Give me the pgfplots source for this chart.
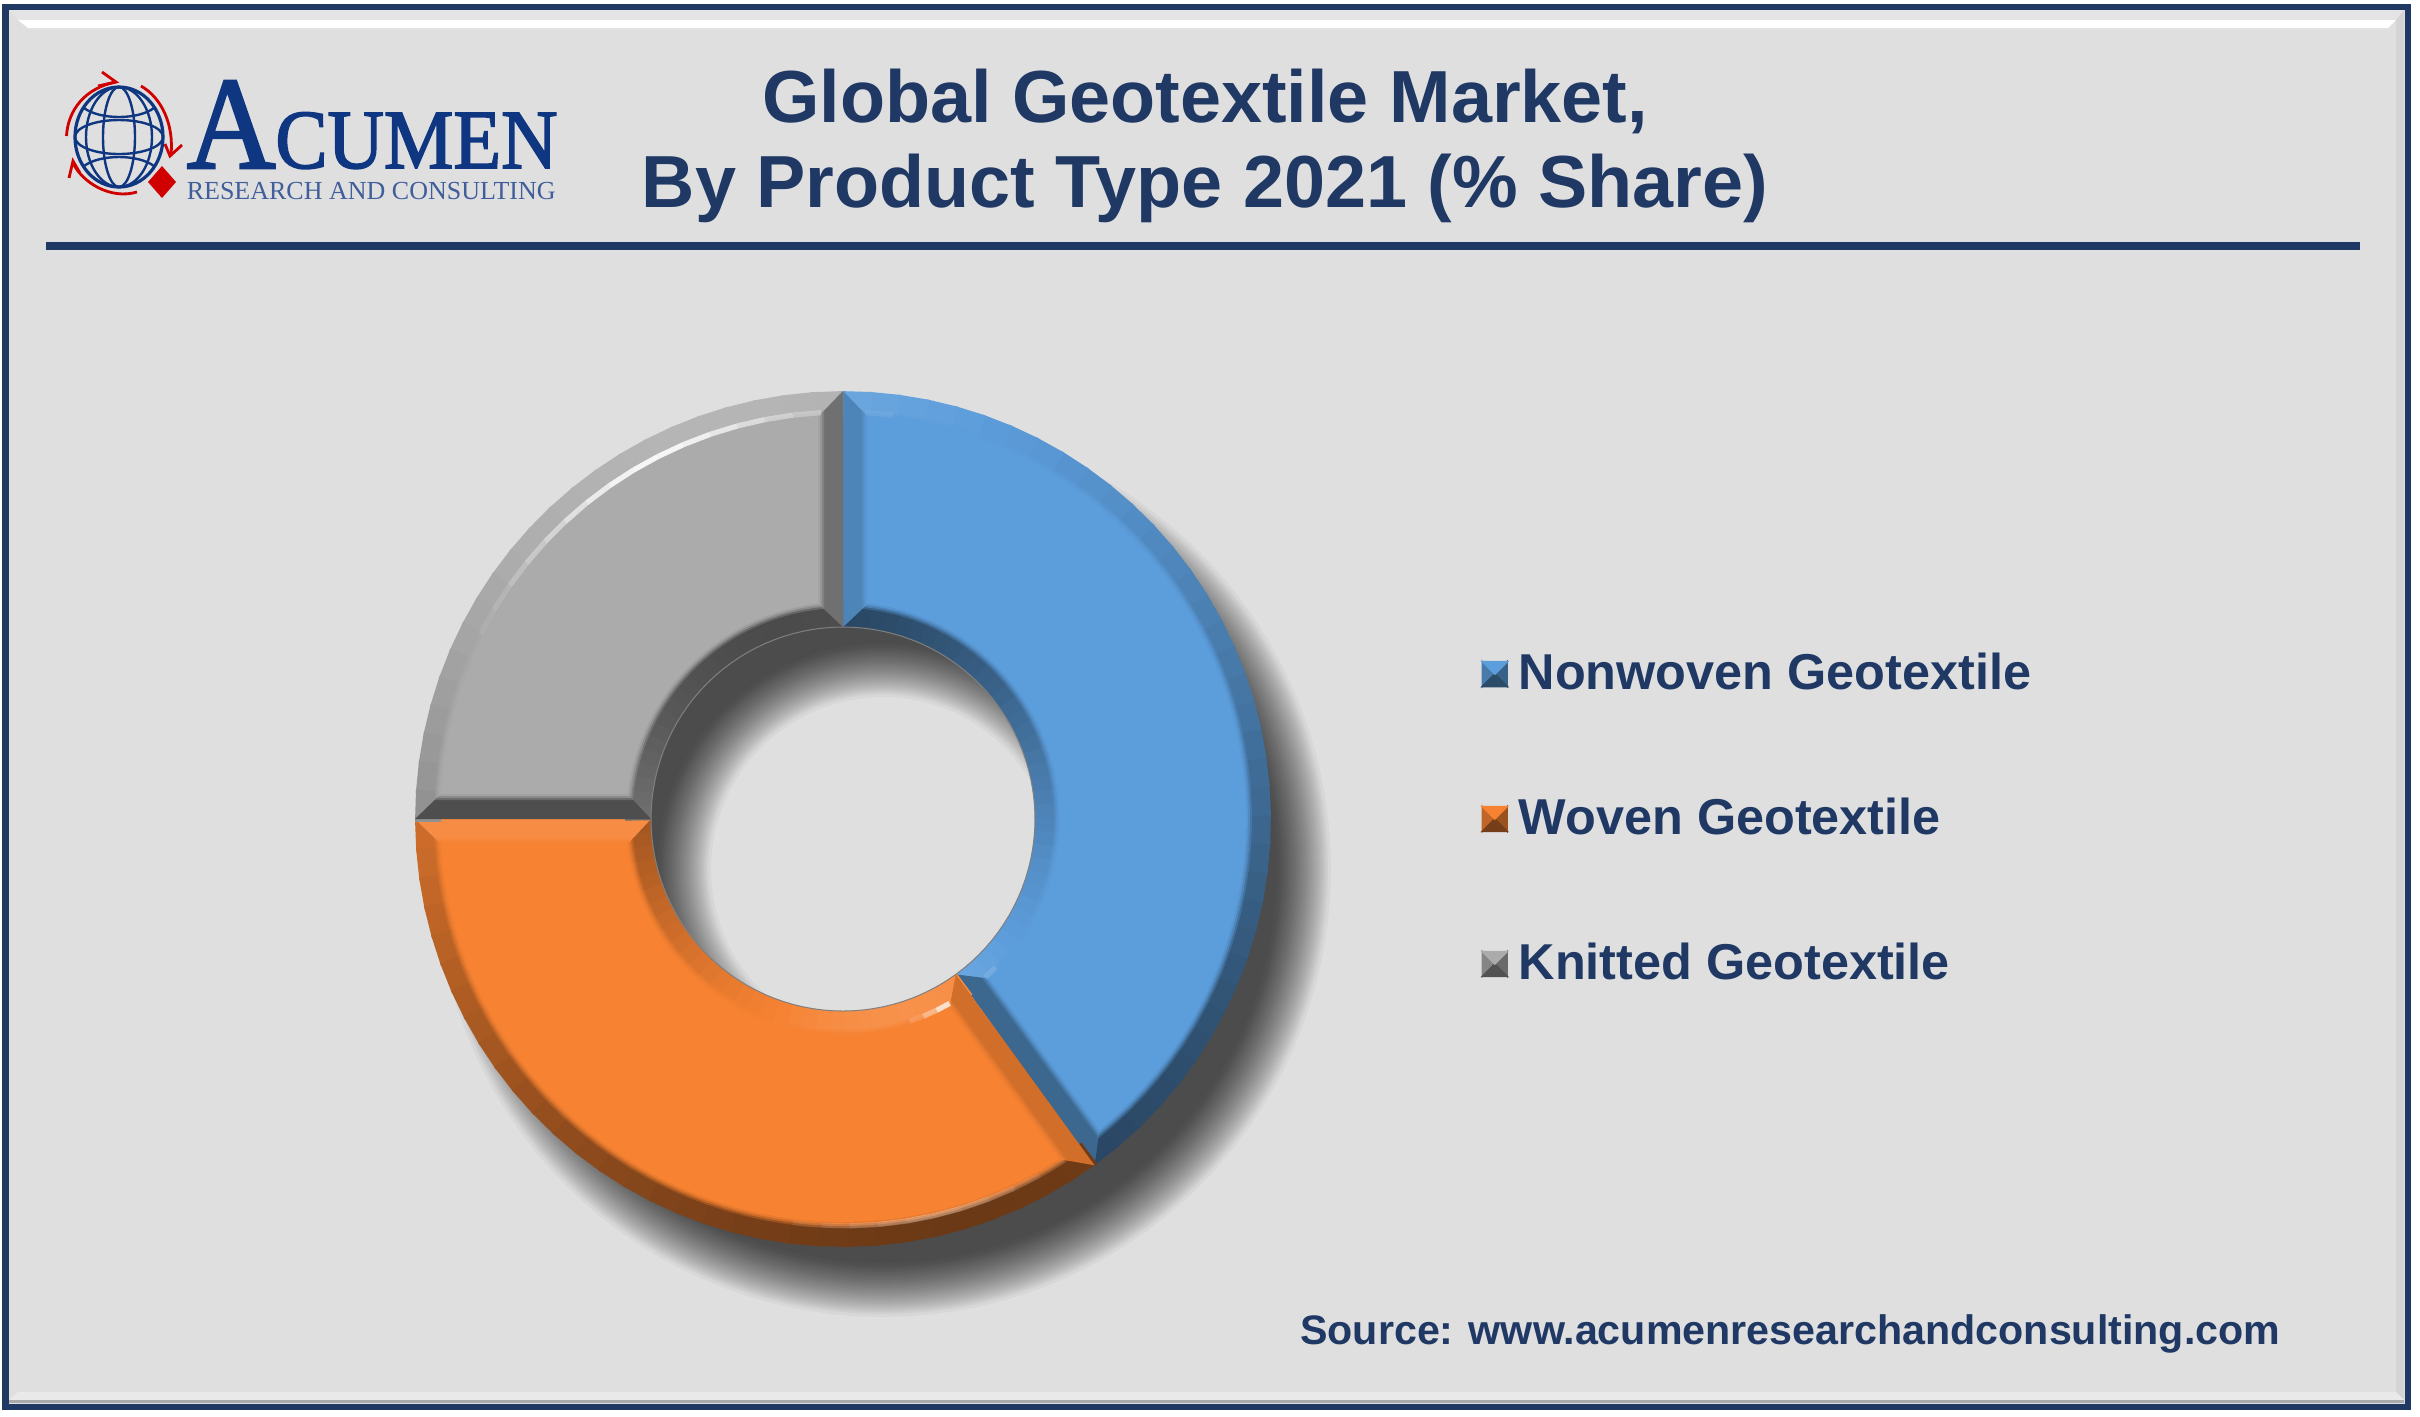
\documentclass[border=0pt]{standalone}
\usepackage{fontspec}
\setmainfont{Liberation Sans}
\newfontfamily\logofont[FakeBold=2]{Liberation Serif}
\newfontfamily\logofontb{Liberation Serif}
\usepackage{pgfplots}
\pgfplotsset{compat=1.18}
\usepgfplotslibrary{polar}
\definecolor{navy}{HTML}{1F3864}
\definecolor{logoblue}{HTML}{0F3680}
\definecolor{logored}{HTML}{D00000}
\definecolor{bg}{HTML}{DFDFDF}
\definecolor{cblue}{HTML}{5C9DDB}
\definecolor{corange}{HTML}{F68232}
\definecolor{cgrey}{HTML}{ABABAB}
\definecolor{frA}{HTML}{E4E4E4}
\definecolor{frB}{HTML}{D4D4D4}
\definecolor{frC}{HTML}{E9E9E9}
\definecolor{frD}{HTML}{ABABAB}
\pgfplotsset{donut/.style={scale only axis,width=260pt,height=260pt,hide axis,
  xmin=0,xmax=360,ymin=0,ymax=520,clip=false,anchor=center}}
% ---- helpers: the arcs of a ring slice, as coordinates in (angle, radius)
\newcommand\clearpts{\gdef\pts{}}
\newcommand\addarc[3]{%
  \pgfmathtruncatemacro\nn{max(1,ceil(abs((#2)-(#1))/3))}%
  \foreach \i in {0,...,\nn}{%
    \pgfmathsetmacro\aa{(#1)+((#2)-(#1))*(\i/\nn)}%
    \xdef\pts{\pts(\aa,#3)}}}
\newcommand\poly[1]{\edef\temp{\noexpand\addplot[forget plot,draw=none,#1] coordinates {\pts};}\temp}
\newcommand\rimshade[2]{%
  \pgfmathsetmacro\f{0.75+0.31*cos((#2)-108)}%
  \pgfmathtruncatemacro\up{\f>=1?1:0}%
  \ifnum\up=1 \pgfmathsetmacro\pc{max(40,100-(\f-1)*200)}\edef\shcol{#1!\pc!white}%
  \else \pgfmathsetmacro\pc{\f*100}\edef\shcol{#1!\pc!black}\fi}
\newcommand\rimset[5]{% from,to,r1,r2,normal offset
  \pgfmathtruncatemacro\ns{ceil(abs((#2)-(#1))/4)}%
  \foreach \j in {1,...,\ns}{%
    \pgfmathsetmacro\ta{(#1)+((#2)-(#1))*((\j-1)/\ns)}%
    \pgfmathsetmacro\tb{(#1)+((#2)-(#1))*(\j/\ns)+0.4}%
    \pgfmathsetmacro\tm{(\ta+\tb)/2+(#5)}%
    \rimshade{\basecol}{\tm}%
    \clearpts\xdef\pts{(\ta,#3)(\tb,#3)(\tb,#4)(\ta,#4)}%
    \poly{fill=\shcol}}}
\newcommand\glint[7]{% from,to,radius,normal offset,peak angle,amplitude,sharpness
  \pgfmathtruncatemacro\ns{ceil(abs((#2)-(#1))/4)}%
  \foreach \j in {1,...,\ns}{%
    \pgfmathsetmacro\ta{(#1)+((#2)-(#1))*((\j-1)/\ns)}%
    \pgfmathsetmacro\tb{(#1)+((#2)-(#1))*(\j/\ns)}%
    \pgfmathsetmacro\tm{(\ta+\tb)/2+(#4)}%
    \pgfmathsetmacro\co{max(0,cos(\tm-(#5)))}%
    \pgfmathsetmacro\op{(#6)*pow(\co,#7)}%
    \pgfmathtruncatemacro\vis{\op>0.04?1:0}%
    \ifnum\vis=1
      \clearpts\xdef\pts{(\ta,#3)(\tb,#3)}%
      \edef\temp{\noexpand\addplot[forget plot,draw=white,line width=1.3pt,opacity=\op] coordinates {\pts};}\temp
    \fi}}
\def\Ro{428}\def\Ri{192}\def\Bev{26}
\newcommand\FaceP[2]{% inset, options
  \pgfmathsetmacro\Rp{\Ro-(#1)}\pgfmathsetmacro\Rq{\Ri+(#1)}%
  \pgfmathsetmacro\dOutp{asin((#1)/\Rp)}\pgfmathsetmacro\dInp{asin((#1)/\Rq)}%
  \pgfmathsetmacro\fa{\tlo+\dOutp}\pgfmathsetmacro\fb{\thi-\dOutp}%
  \pgfmathsetmacro\ga{\thi-\dInp}\pgfmathsetmacro\gb{\tlo+\dInp}%
  \clearpts\addarc{\fa}{\fb}{\Rp}\addarc{\ga}{\gb}{\Rq}%
  \poly{#2}}
\newcommand\Slice[2]{% share in percent, base colour
  \def\basecol{#2}%
  \pgfmathsetmacro\thi{450-3.6*\cum}%
  \pgfmathsetmacro\tlo{\thi-3.6*(#1)}%
  \pgfmathsetmacro\RoB{\Ro-\Bev}\pgfmathsetmacro\RiB{\Ri+\Bev}%
  \pgfmathsetmacro\dOut{asin(\Bev/\RoB)}\pgfmathsetmacro\dIn{asin(\Bev/\RiB)}%
  \rimset{\tlo}{\thi}{\Ro}{\RoB}{0}%
  \rimset{\tlo}{\thi}{\RiB}{\Ri}{180}%
  % side bevels
  \pgfmathsetmacro\nhi{\thi+90}\rimshade{#2}{\nhi}%
  \pgfmathsetmacro\px{\thi-\dOut}\pgfmathsetmacro\qx{\thi-\dIn}%
  \clearpts\xdef\pts{(\thi,\Ro)(\px,\RoB)(\qx,\RiB)(\thi,\Ri)}\poly{fill=\shcol}%
  \pgfmathsetmacro\nlo{\tlo-90}\rimshade{#2}{\nlo}%
  \pgfmathsetmacro\px{\tlo+\dOut}\pgfmathsetmacro\qx{\tlo+\dIn}%
  \clearpts\xdef\pts{(\tlo,\Ro)(\px,\RoB)(\qx,\RiB)(\tlo,\Ri)}\poly{fill=\shcol}%
  % flat face with a soft edge
  \FaceP{19}{fill=#2,fill opacity=0.3}%
  \FaceP{21}{fill=#2,fill opacity=0.5}%
  \FaceP{23}{fill=#2,fill opacity=0.7}%
  \FaceP{25}{fill=#2}%
  \pgfmathsetmacro\Rg{\Ro-21}\pgfmathsetmacro\Rh{\Ri+21}%
  \pgfmathsetmacro\fa{\tlo+asin(22/\Rg)}\pgfmathsetmacro\fb{\thi-asin(22/\Rg)}%
  \pgfmathsetmacro\ga{\thi-asin(22/\Rh)}\pgfmathsetmacro\gb{\tlo+asin(22/\Rh)}%
  \glint{\fa}{\fb}{\Rg}{0}{118}{0.9}{14}%
  \glint{\fa}{\fb}{\Rg}{0}{283}{0.3}{30}%
  \glint{\gb}{\ga}{\Rh}{180}{122}{0.9}{90}%
  \pgfmathsetmacro\newcum{\cum+(#1)}\global\let\cum\newcum}
\newcommand\pyramid[4]{%
  \fill[#3] (0pt,-3.1pt)--(0pt,3.1pt)--(3.1pt,0pt)--cycle;
  \fill[#4] (6.2pt,-3.1pt)--(6.2pt,3.1pt)--(3.1pt,0pt)--cycle;
  \fill[#2] (0pt,-3.1pt)--(6.2pt,-3.1pt)--(3.1pt,0pt)--cycle;
  \fill[#1] (0pt,3.1pt)--(6.2pt,3.1pt)--(3.1pt,0pt)--cycle;}
\begin{document}
\begin{tikzpicture}
\begin{scope}[x=0.25pt,y=-0.25pt]
\path[use as bounding box] (0,0) rectangle (2420,1416);
\fill[white] (0,0) rectangle (2420,1416);
\fill[bg] (4,6) rectangle (2408,1406);
% frame bevel
\fill[frA] (9,10) -- (2404,10) -- (2396,20) -- (18,20) -- cycle;
\fill[white] (18,20) -- (2396,20) -- (2388,28) -- (28,28) -- cycle;
\fill[frB] (2396,20) -- (2404,10) -- (2404,1402) -- (2396,1392) -- cycle;
\fill[frC] (18,1392) -- (2396,1392) -- (2404,1400) -- (9,1400) -- cycle;
\fill[frD] (9,1400) rectangle (2404,1403);
\draw[navy,line width=1.5pt] (5.5,7) rectangle (2408,1406.5);
% rule
\fill[navy] (46,242) rectangle (2360,250);
\coordinate (C) at (843,819);
\coordinate (S) at (883,869);
\end{scope}
% shadow
\begin{polaraxis}[donut,at={(S)}]
\foreach \d in {27,24,22,20,18,16,14,12,10,8,6,4,2,0,-2,-4,-6,-8,-10,-12,-14,-16,-18,-20,-22,-24,-27}{%
  \pgfmathsetmacro\ra{421+\d}\pgfmathsetmacro\rb{199-\d}%
  \clearpts\addarc{0}{360}{\ra}\addarc{360}{0}{\rb}%
  \poly{fill=black,fill opacity=0.036}}
\end{polaraxis}
% donut and legend
\begin{polaraxis}[donut,at={(C)},
  legend style={at={(1.114,0.5)},anchor=west,draw=none,fill=none,inner sep=0pt,outer sep=0pt,
    font=\bfseries\fontsize{12.6}{12.6}\selectfont\color{navy},row sep=21.6pt},
  legend cell align=left]
\gdef\cum{0}
\Slice{40}{cblue}
\Slice{35}{corange}
\Slice{25}{cgrey}
\clearpts\addarc{0}{360}{192}
\edef\temp{\noexpand\addplot[forget plot,draw=gray,line width=0.25pt] coordinates {\pts};}\temp
\addlegendimage{legend image code/.code={\pyramid{cblue}{cblue!48!black}{cblue!78!black}{cblue!62!black}}}
\addlegendentry{\hspace*{0.7pt}Nonwoven Geotextile}
\addlegendimage{legend image code/.code={\pyramid{corange}{corange!48!black}{corange!78!black}{corange!62!black}}}
\addlegendentry{\hspace*{0.7pt}Woven Geotextile}
\addlegendimage{legend image code/.code={\pyramid{cgrey}{cgrey!48!black}{cgrey!78!black}{cgrey!62!black}}}
\addlegendentry{\hspace*{0.7pt}Knitted Geotextile}
\end{polaraxis}
\begin{scope}[x=0.25pt,y=-0.25pt]
% titles
\node[anchor=base,text=navy,font=\bfseries\fontsize{18.45}{18.45}\selectfont,inner sep=0pt] at (1205,122) {Global Geotextile Market,};
\node[anchor=base,text=navy,font=\bfseries\fontsize{18.45}{18.45}\selectfont,inner sep=0pt] at (1205,207) {By Product Type 2021 (\% Share)};
\node[anchor=base east,text=navy,font=\bfseries\fontsize{10.3}{10.3}\selectfont,inner sep=0pt] at (2281,1344) {Source: www.acumenresearchandconsulting.com};
% logo
\draw[logoblue,line width=0.8pt] (119,137) ellipse (44 and 50);
\draw[logoblue,line width=0.6pt] (119,137) ellipse (16 and 50);
\draw[logoblue,line width=0.6pt] (119,137) ellipse (33 and 50);
\draw[logoblue,line width=0.6pt] (119,137) ellipse (44 and 17);
\draw[logoblue,line width=0.6pt] (84,108) .. controls (100,120) and (138,120) .. (154,108);
\draw[logoblue,line width=0.6pt] (84,166) .. controls (100,154) and (138,154) .. (154,166);
\draw[logored,line width=0.7pt] (66.5,136) .. controls (68,110) and (85,88) .. (116,82);
\draw[logored,line width=0.7pt] (102,72) -- (116,82) -- (98,86);
\draw[logored,line width=0.7pt] (141,86) .. controls (162,98) and (174,125) .. (171,155);
\draw[logored,line width=0.7pt] (182,145) -- (170,156) -- (165,144);
\draw[logored,line width=0.7pt] (73,163) .. controls (82,182) and (110,200) .. (137,192);
\draw[logored,line width=0.7pt] (69,178) -- (73,161) -- (80,173);
\fill[logored] (162,166) -- (176,182) -- (162,198) -- (148,182) -- cycle;
\node[anchor=base west,text=logoblue,inner sep=0pt] at (186,168) {\scalebox{0.93}[1]{\logofont\fontsize{33}{33}\selectfont A\fontsize{21}{21}\selectfont CUMEN}};
\node[anchor=base west,text=logoblue!80!white,inner sep=0pt] at (186,199) {\logofontb\fontsize{6.5}{6.5}\selectfont RESEARCH AND CONSULTING};
\end{scope}
\end{tikzpicture}
\end{document}
